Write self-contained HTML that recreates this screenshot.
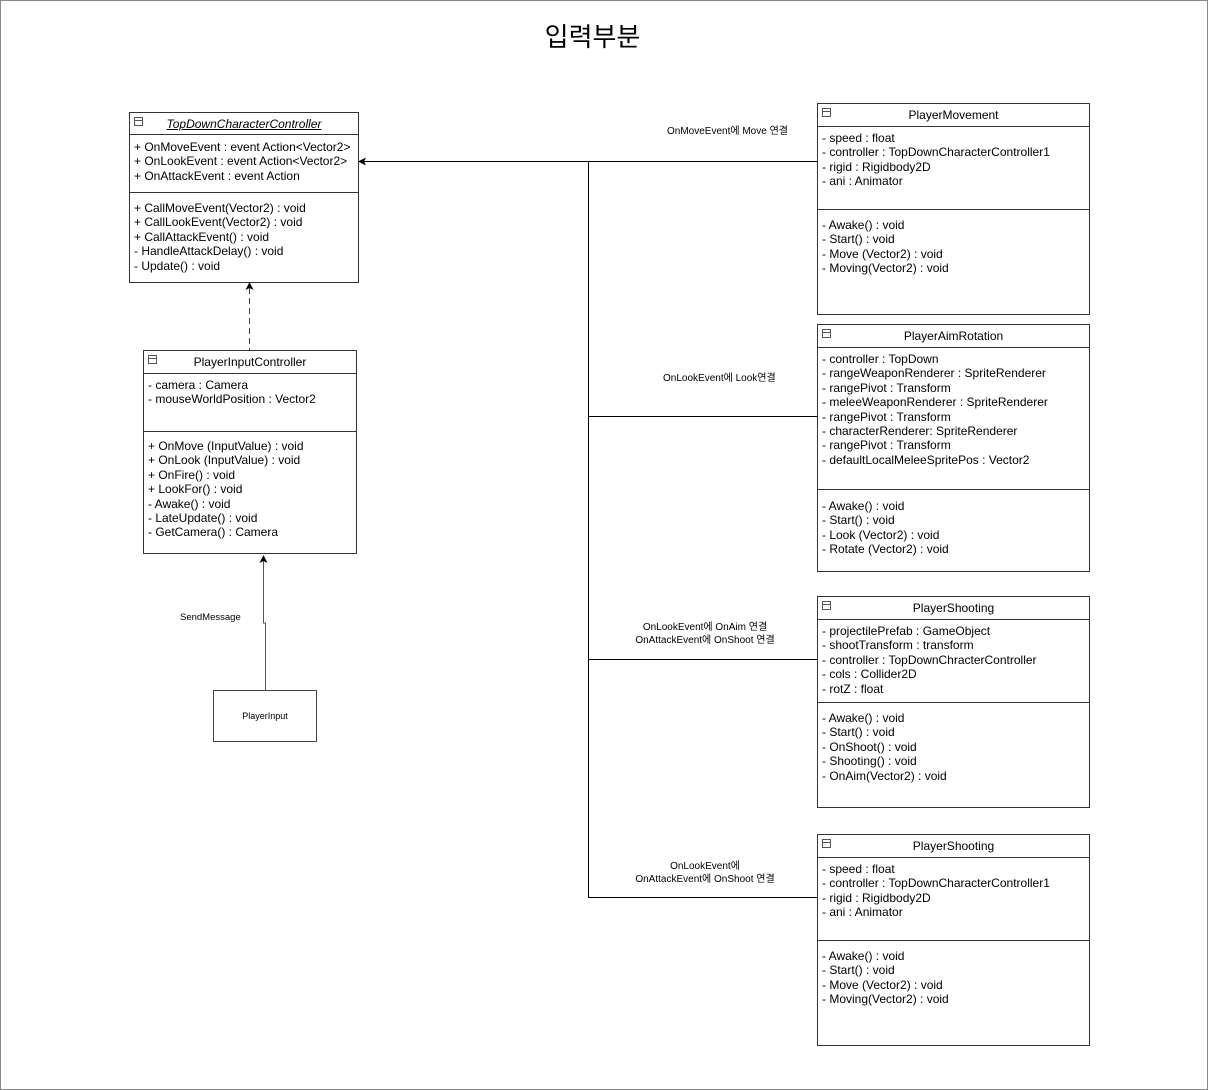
<!DOCTYPE html>
<html><head><meta charset="utf-8"><style>
*{margin:0;padding:0;box-sizing:border-box}
body{width:1208px;height:1090px;position:relative;background:#fff;font-family:"Liberation Sans","Noto Sans CJK KR",sans-serif;color:#000;overflow:hidden}
.frame{position:absolute;left:0;top:0;width:1208px;height:1090px;border:1px solid #888}
.box{position:absolute;border:1px solid #333;background:#fff}
.hd{position:absolute;left:0;right:0;top:0;border-bottom:1px solid #333;text-align:center;font-size:12px;line-height:22px}
.hd::before{content:"";position:absolute;left:4px;top:4px;width:7px;height:7px;border:1px solid #555;background:linear-gradient(#fff 2px,#555 2px,#555 3px,#fff 3px)}
.dv{position:absolute;left:0;right:0;border-top:1px solid #333}
.tx{position:absolute;left:4px;font-size:12px;line-height:14.4px;white-space:pre}
.lb{position:absolute;font-size:10px;line-height:13px;text-align:center;white-space:nowrap}
</style></head><body>
<div class="frame"></div>
<div style="position:absolute;left:0;width:1185px;top:20px;text-align:center;font-size:26px;line-height:34px">입력부분</div>

<svg width="1208" height="1090" style="position:absolute;left:0;top:0">
<g stroke="#000" stroke-width="1" fill="none">
<line x1="588.5" y1="161" x2="588.5" y2="897"/>
<line x1="362" y1="161.5" x2="817" y2="161.5"/>
<line x1="588" y1="416.5" x2="817" y2="416.5"/>
<line x1="588" y1="659.5" x2="817" y2="659.5"/>
<line x1="588" y1="897.5" x2="817" y2="897.5"/>
<line x1="249.5" y1="288" x2="249.5" y2="350" stroke-dasharray="6,4" stroke="#444"/>
<polyline points="265.5,690 265.5,623 263.5,623 263.5,561" stroke="#555"/>
</g>
<polygon points="358,161.5 366,157.5 364,161.5 366,165.5" fill="#000"/>
<polygon points="249.5,282 245.5,290 249.5,288 253.5,290" fill="#000"/>
<polygon points="263.5,555 259.5,563 263.5,561 267.5,563" fill="#000"/>
</svg>

<div class="box" style="left:129px;top:112px;width:230px;height:171px">
<div class="hd" style="height:22px;font-style:italic;text-decoration:underline">TopDownCharacterController</div>
<div class="tx" style="top:27px">+ OnMoveEvent : event Action&lt;Vector2&gt;
+ OnLookEvent : event Action&lt;Vector2&gt;
+ OnAttackEvent : event Action</div>
<div class="dv" style="top:79px"></div>
<div class="tx" style="top:88px">+ CallMoveEvent(Vector2) : void
+ CallLookEvent(Vector2) : void
+ CallAttackEvent() : void
- HandleAttackDelay() : void
- Update() : void</div>
</div>

<div class="box" style="left:143px;top:350px;width:214px;height:204px">
<div class="hd" style="height:23px">PlayerInputController</div>
<div class="tx" style="top:27px">- camera : Camera
- mouseWorldPosition : Vector2</div>
<div class="dv" style="top:80px"></div>
<div class="tx" style="top:88px">+ OnMove (InputValue) : void
+ OnLook (InputValue) : void
+ OnFire() : void
+ LookFor() : void
- Awake() : void
- LateUpdate() : void
- GetCamera() : Camera</div>
</div>

<div class="box" style="left:213px;top:690px;width:104px;height:52px;border-color:#444;font-size:9px;text-align:center;line-height:50px">PlayerInput</div>
<div class="lb" style="left:180px;top:611px;font-size:9.5px">SendMessage</div>

<div class="box" style="left:817px;top:103px;width:273px;height:212px">
<div class="hd" style="height:23px">PlayerMovement</div>
<div class="tx" style="top:27px">- speed : float
- controller : TopDownCharacterController1
- rigid : Rigidbody2D
- ani : Animator</div>
<div class="dv" style="top:105px"></div>
<div class="tx" style="top:114px">- Awake() : void
- Start() : void
- Move (Vector2) : void
- Moving(Vector2) : void</div>
</div>

<div class="box" style="left:817px;top:324px;width:273px;height:248px">
<div class="hd" style="height:23px">PlayerAimRotation</div>
<div class="tx" style="top:27px">- controller : TopDown
- rangeWeaponRenderer : SpriteRenderer
- rangePivot : Transform
- meleeWeaponRenderer : SpriteRenderer
- rangePivot : Transform
- characterRenderer: SpriteRenderer
- rangePivot : Transform
- defaultLocalMeleeSpritePos : Vector2</div>
<div class="dv" style="top:164px"></div>
<div class="tx" style="top:174px">- Awake() : void
- Start() : void
- Look (Vector2) : void
- Rotate (Vector2) : void</div>
</div>

<div class="box" style="left:817px;top:596px;width:273px;height:212px">
<div class="hd" style="height:23px">PlayerShooting</div>
<div class="tx" style="top:27px">- projectilePrefab : GameObject
- shootTransform : transform
- controller : TopDownChracterController
- cols : Collider2D
- rotZ : float</div>
<div class="dv" style="top:105px"></div>
<div class="tx" style="top:114px">- Awake() : void
- Start() : void
- OnShoot() : void
- Shooting() : void
- OnAim(Vector2) : void</div>
</div>

<div class="box" style="left:817px;top:834px;width:273px;height:212px">
<div class="hd" style="height:23px">PlayerShooting</div>
<div class="tx" style="top:27px">- speed : float
- controller : TopDownCharacterController1
- rigid : Rigidbody2D
- ani : Animator</div>
<div class="dv" style="top:105px"></div>
<div class="tx" style="top:114px">- Awake() : void
- Start() : void
- Move (Vector2) : void
- Moving(Vector2) : void</div>
</div>

<div class="lb" style="left:667px;top:125px">OnMoveEvent에 Move 연결</div>
<div class="lb" style="left:663px;top:372px">OnLookEvent에 Look연결</div>
<div class="lb" style="left:630px;top:621px;width:150px">OnLookEvent에 OnAim 연결<br>OnAttackEvent에 OnShoot 연결</div>
<div class="lb" style="left:630px;top:860px;width:150px">OnLookEvent에<br>OnAttackEvent에 OnShoot 연결</div>
</body></html>
